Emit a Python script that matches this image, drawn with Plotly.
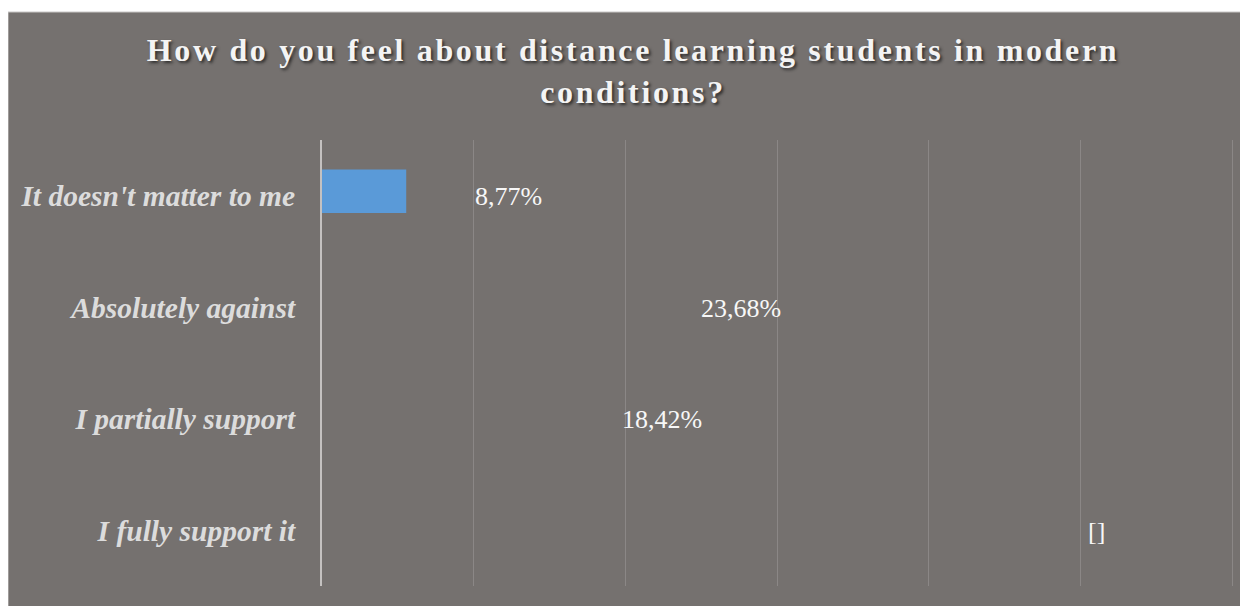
import plotly.graph_objects as go

# ---- data ----
categories = ["It doesn't matter to me", "Absolutely against", "I partially support", "I fully support it"]
percent_values = [8.77, 23.68, 18.42, 49.13]          # label positions (percent)
label_texts = ["8,77%", "23,68%", "18,42%", "[]"]
bar_values = [5.55, None, None, None]                 # visible filled bar lengths
title_text = "How do you feel about distance learning students in modern<br>conditions?"

BG = "#75716f"
W, H = 1240, 598
ML, MR, MT, MB = 314, 14, 132, 20
PW, PH = W - ML - MR, H - MT - MB
SERIF = "Liberation Serif, Times New Roman, serif"

fig = go.Figure()

# invisible bars carrying the percentage values
fig.add_trace(go.Bar(
    y=categories, x=percent_values, orientation="h",
    marker=dict(color="rgba(0,0,0,0)", line=dict(width=0)),
    width=0.39, offset=-0.235, hoverinfo="skip", showlegend=False,
))
# visible blue bar
fig.add_trace(go.Bar(
    y=categories, x=bar_values, orientation="h",
    marker=dict(color="#5a9ad8", line=dict(width=0)),
    width=0.39, offset=-0.235, showlegend=False,
))

for cat, val, txt in zip(categories, percent_values, label_texts):
    fig.add_annotation(
        x=val, y=cat, text=txt, showarrow=False,
        xanchor="left", yanchor="middle", xshift=18, yshift=-1,
        font=dict(family=SERIF, size=26, color="#f7f7f7"),
    )

# gray chart area background with light top/left edge
fig.add_shape(
    type="rect", xref="paper", yref="paper", layer="below",
    x0=(0 - ML) / PW, x1=(W + 3 - ML) / PW,
    y0=-(MB + 3) / PH, y1=(H - MB - 4) / PH,
    fillcolor=BG, line=dict(color="#c9c7c6", width=1),
)

fig.update_layout(
    width=W, height=H,
    paper_bgcolor="white", plot_bgcolor=BG,
    margin=dict(l=ML, r=MR, t=MT, b=MB),
    barmode="overlay",
    title=dict(
        text=title_text, x=625 / W, xanchor="center", xref="container",
        y=1 - 53 / H, yanchor="top", yref="container",
        font=dict(family=SERIF, size=32, color="#f4f4f4",
                  weight="bold", shadow="2px 2px 3px rgba(30,30,30,0.8)"),
    ),
    xaxis=dict(range=[0, 60.1], dtick=10, showticklabels=False, showgrid=True,
               gridcolor="#8b8786", gridwidth=1, zeroline=False, showline=False, fixedrange=True),
    yaxis=dict(autorange="reversed", showgrid=False, zeroline=False, showline=True,
               linecolor="#c4c1c0", linewidth=2, ticks="", ticklabelstandoff=19,
               tickfont=dict(family=SERIF, size=29.5, color="#dcdcdc",
                             weight="bold", style="italic")),
)

post = ("document.querySelectorAll('.gtitle').forEach(function(e){"
        "e.style.letterSpacing='2.65px';});")
fig.write_html("out.html", post_script=post)
